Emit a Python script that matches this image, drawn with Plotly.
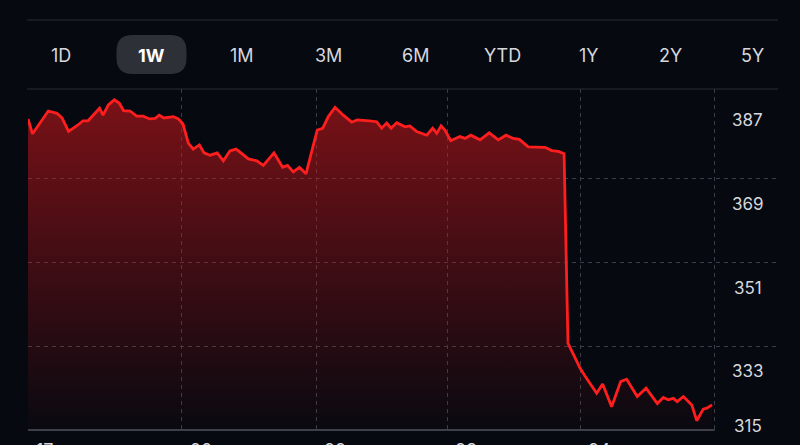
import plotly.graph_objects as go

# ---------------- data ----------------
# elapsed trading time (hours) and price
hours = [0.00, 0.22, 0.99, 1.41, 1.66, 1.98, 2.44, 2.68, 2.93, 3.49, 3.66, 3.92, 4.21, 4.45,
         4.66, 4.98, 5.30, 5.62, 5.93, 6.20, 6.40, 6.63, 7.09, 7.34, 7.56, 7.82, 8.06, 8.36,
         8.59, 8.88, 9.23, 9.53, 9.85, 10.15, 10.42, 10.75, 11.16, 11.48, 12.00, 12.42, 12.66,
         12.94, 13.24, 13.56, 13.84, 14.11, 14.38, 14.65, 14.98, 15.38, 15.79, 16.06, 16.65,
         17.01, 17.25, 17.50, 17.71, 17.99, 18.39, 18.63, 18.96, 19.45, 19.74, 19.94, 20.15,
         20.34, 20.62, 21.07, 21.32, 21.60, 22.05, 22.50, 22.94, 23.32, 23.67, 23.97, 24.40,
         24.81, 25.22, 25.55, 25.87, 26.15, 26.34, 26.93, 27.17, 27.74, 28.03, 28.47, 28.91,
         29.20, 29.72, 30.15, 30.70, 30.99, 31.23, 31.48, 31.67, 31.97, 32.38, 32.62, 32.94,
         33.11, 33.37]
prices = [381.9, 378.7, 383.6, 383.1, 382.1, 379.2, 380.6, 381.5, 381.5, 384.2, 382.7, 384.9,
          386.0, 385.3, 383.7, 383.6, 382.5, 382.5, 381.9, 382.0, 382.7, 382.1, 382.4, 381.9,
          380.8, 376.7, 375.4, 376.3, 374.6, 374.1, 374.6, 372.9, 375.0, 375.4, 374.5, 373.3,
          372.9, 371.9, 374.6, 371.5, 371.9, 370.5, 371.5, 370.1, 374.9, 379.5, 379.9, 382.4,
          384.4, 382.7, 381.2, 381.7, 381.5, 381.3, 379.9, 381.0, 379.9, 381.1, 380.2, 380.4,
          379.2, 378.4, 379.9, 378.8, 380.4, 379.5, 377.2, 378.1, 377.7, 378.4, 377.4, 378.9,
          377.4, 378.4, 377.7, 377.5, 375.9, 375.9, 375.8, 375.1, 374.9, 374.4, 333.7, 328.3,
          326.6, 322.9, 324.9, 320.0, 325.4, 325.9, 322.2, 324.0, 320.7, 322.0, 321.5, 321.8,
          321.1, 322.2, 320.4, 317.0, 319.5, 319.7, 320.4]

day_starts = [0.0, 7.5, 14.05, 20.45, 26.95]
day_labels = ["17", "20", "22", "23", "24"]
session_end = 33.5

y_ticks = [387, 369, 351, 333, 315]
range_labels = ["1D", "1W", "1M", "3M", "6M", "YTD", "1Y", "2Y", "5Y"]
selected_range = "1W"

# ---------------- style / layout ----------------
BG = "rgb(6,9,16)"
GRID = "rgb(58,61,70)"
TXT = "rgb(214,215,220)"
FONT = "Inter, Roboto, 'Liberation Sans', sans-serif"
W, H = 800, 445
ML, MR, MT, MB = 28, 22, 89, 15
PW, PH = W - ML - MR, H - MT - MB
Y0, Y1 = 315, 315 + PH / 4.65
X1 = (778 - 28) / 20.5

def px_x(p):
    return (p - ML) / PW

def px_y(p):
    return (H - MB - p) / PH

fig = go.Figure()
fig.add_trace(go.Scatter(
    x=hours, y=prices, mode="lines",
    line=dict(color="rgb(255,30,30)", width=2.8),
    fill="tozeroy",
    fillgradient=dict(type="vertical",
                      colorscale=[[0, "rgba(190,20,28,0.02)"], [1, "rgba(205,24,28,0.6)"]],
                      start=Y0, stop=Y1),
    hoverinfo="skip", showlegend=False,
))

shapes = []
# top separator lines
for yp in (20, 89):
    shapes.append(dict(type="line", xref="paper", yref="paper",
                       x0=px_x(27), x1=px_x(778), y0=px_y(yp), y1=px_y(yp),
                       line=dict(color="rgb(42,45,53)", width=1.2), layer="above"))
# bottom axis line
shapes.append(dict(type="line", xref="x", yref="paper", x0=0, x1=session_end, y0=0, y1=0,
                   line=dict(color="rgb(80,83,92)", width=1.5), layer="above"))
# selected range pill
r, hw, hh = 16, 35, 19.5
path = (f"M {-hw + r},{-hh} L {hw - r},{-hh} Q {hw},{-hh} {hw},{-hh + r} "
        f"L {hw},{hh - r} Q {hw},{hh} {hw - r},{hh} L {-hw + r},{hh} "
        f"Q {-hw},{hh} {-hw},{hh - r} L {-hw},{-hh + r} Q {-hw},{-hh} {-hw + r},{-hh} Z")
button_px = [61, 151.5, 242.5, 328, 415, 502.5, 589, 670, 752]
sel_i = range_labels.index(selected_range)
shapes.append(dict(type="path", xref="paper", yref="paper", xsizemode="pixel", ysizemode="pixel",
                   xanchor=px_x(button_px[sel_i]), yanchor=px_y(54.5), path=path,
                   fillcolor="rgb(46,48,56)", line=dict(width=0), layer="above"))

annotations = []
for lbl, cx in zip(range_labels, button_px):
    sel = lbl == selected_range
    annotations.append(dict(xref="paper", yref="paper", x=px_x(cx), y=px_y(55),
                            text=f"<b>{lbl}</b>" if sel else lbl, showarrow=False,
                            xanchor="center", yanchor="middle",
                            font=dict(family=FONT, size=18,
                                      color="white" if sel else TXT)))
for i, v in enumerate(y_ticks):
    last = i == len(y_ticks) - 1
    annotations.append(dict(xref="paper", yref="y", x=px_x(747.5), y=v,
                            text=str(v), showarrow=False, xanchor="center",
                            yanchor="middle", yshift=4 if last else -25,
                            font=dict(family=FONT, size=17, color=TXT)))
for d, lbl in zip(day_starts, day_labels):
    annotations.append(dict(xref="x", yref="paper", x=d, xshift=6, y=px_y(438),
                            text=lbl, showarrow=False, xanchor="left", yanchor="top",
                            font=dict(family=FONT, size=18, color=TXT)))

fig.update_layout(
    width=W, height=H, margin=dict(l=ML, r=MR, t=MT, b=MB),
    paper_bgcolor=BG, plot_bgcolor=BG,
    xaxis=dict(range=[0, X1], tickvals=day_starts + [session_end], showticklabels=False,
               showgrid=True, gridcolor=GRID, griddash="4px,4px", gridwidth=1,
               zeroline=False, showline=False, fixedrange=True),
    yaxis=dict(range=[Y0, Y1], tickvals=y_ticks[1:-1], showticklabels=False,
               showgrid=True, gridcolor=GRID, griddash="4px,4px", gridwidth=1,
               zeroline=False, showline=False, fixedrange=True),
    shapes=shapes, annotations=annotations,
    hovermode=False,
)

fig.write_html("out.html", config={"displayModeBar": False})
